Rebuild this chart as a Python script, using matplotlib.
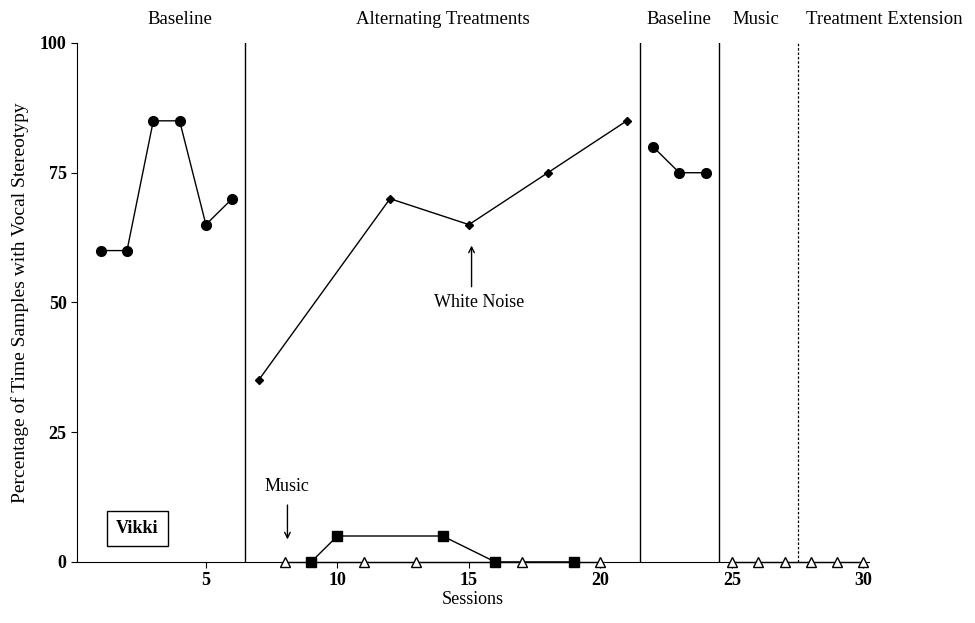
import matplotlib.pyplot as plt

plt.rcParams['font.family'] = ['Liberation Serif', 'DejaVu Serif']

# baseline phases
bl1_x = [1, 2, 3, 4, 5, 6]
bl1_y = [60, 60, 85, 85, 65, 70]
bl2_x = [22, 23, 24]
bl2_y = [80, 75, 75]
# white noise
wn_x = [7, 12, 15, 18, 21]
wn_y = [35, 70, 65, 75, 85]
# other condition (squares)
sq_x = [9, 10, 14, 16, 19]
sq_y = [0, 5, 5, 0, 0]
# music
mu_x = [8, 11, 13, 17, 20]
mu_y = [0, 0, 0, 0, 0]
mu2_x = [25, 26, 27, 28, 29, 30]
mu2_y = [0, 0, 0, 0, 0, 0]

phase_lines = [6.5, 21.5, 24.5]
dashed_line = 27.5
phase_labels = [(4.0, 'Baseline'), (14.0, 'Alternating Treatments'),
                (23.0, 'Baseline'), (25.9, 'Music'), (30.8, 'Treatment Extension')]

fig = plt.figure(figsize=(9.75, 6.23), dpi=100)
ax = fig.add_axes([0.079, 0.098, 0.812, 0.833])

ax.plot(bl1_x, bl1_y, 'k-', marker='o', ms=7, lw=1)
ax.plot(bl2_x, bl2_y, 'k-', marker='o', ms=7, lw=1)
ax.plot(wn_x, wn_y, 'k-', marker='D', ms=4.5, lw=1)
ax.plot(sq_x, sq_y, 'k-', marker='s', ms=7, lw=1, clip_on=False, zorder=4)
ax.plot(mu_x, mu_y, color='k', marker='^', ms=7, lw=1, mfc='white', clip_on=False, zorder=5)
ax.plot(mu2_x, mu2_y, color='k', marker='^', ms=7, lw=1, mfc='white', clip_on=False, zorder=5)

for xv in phase_lines:
    ax.plot([xv, xv], [0, 100], color='k', lw=1)
ax.plot([dashed_line, dashed_line], [0, 100], color='k', lw=0.9, ls=(0, (2, 1.5)))

ax.set_xlim(0.1, 30.2)
ax.set_ylim(0, 100)
ax.set_xticks([5, 10, 15, 20, 25, 30])
ax.set_yticks([0, 25, 50, 75, 100])
ax.tick_params(direction='out', length=4, labelsize=13, width=0.8)
for lbl in ax.get_xticklabels() + ax.get_yticklabels():
    lbl.set_fontweight('bold')
for s in ['top', 'right']:
    ax.spines[s].set_visible(False)

ax.set_xlabel('Sessions', fontsize=13, labelpad=1)
ax.set_ylabel('Percentage of Time Samples with Vocal Stereotypy', fontsize=14, labelpad=8)

for xv, txt in phase_labels:
    ax.text(xv, 104.5, txt, ha='center', va='center', fontsize=13.5)

ax.annotate('', xy=(15.1, 61.5), xytext=(15.1, 52.5),
            arrowprops=dict(arrowstyle='->', color='k', lw=1))
ax.text(15.4, 50, 'White Noise', ha='center', va='center', fontsize=13)

ax.annotate('', xy=(8.1, 3.8), xytext=(8.1, 11.5),
            arrowprops=dict(arrowstyle='->', color='k', lw=1))
ax.text(8.1, 14.5, 'Music', ha='center', va='center', fontsize=13)

ax.text(2.4, 6.5, 'Vikki', ha='center', va='center', fontsize=13, fontweight='bold',
        bbox=dict(boxstyle='square,pad=0.5', fc='white', ec='k', lw=1))

fig.savefig('out.png')
